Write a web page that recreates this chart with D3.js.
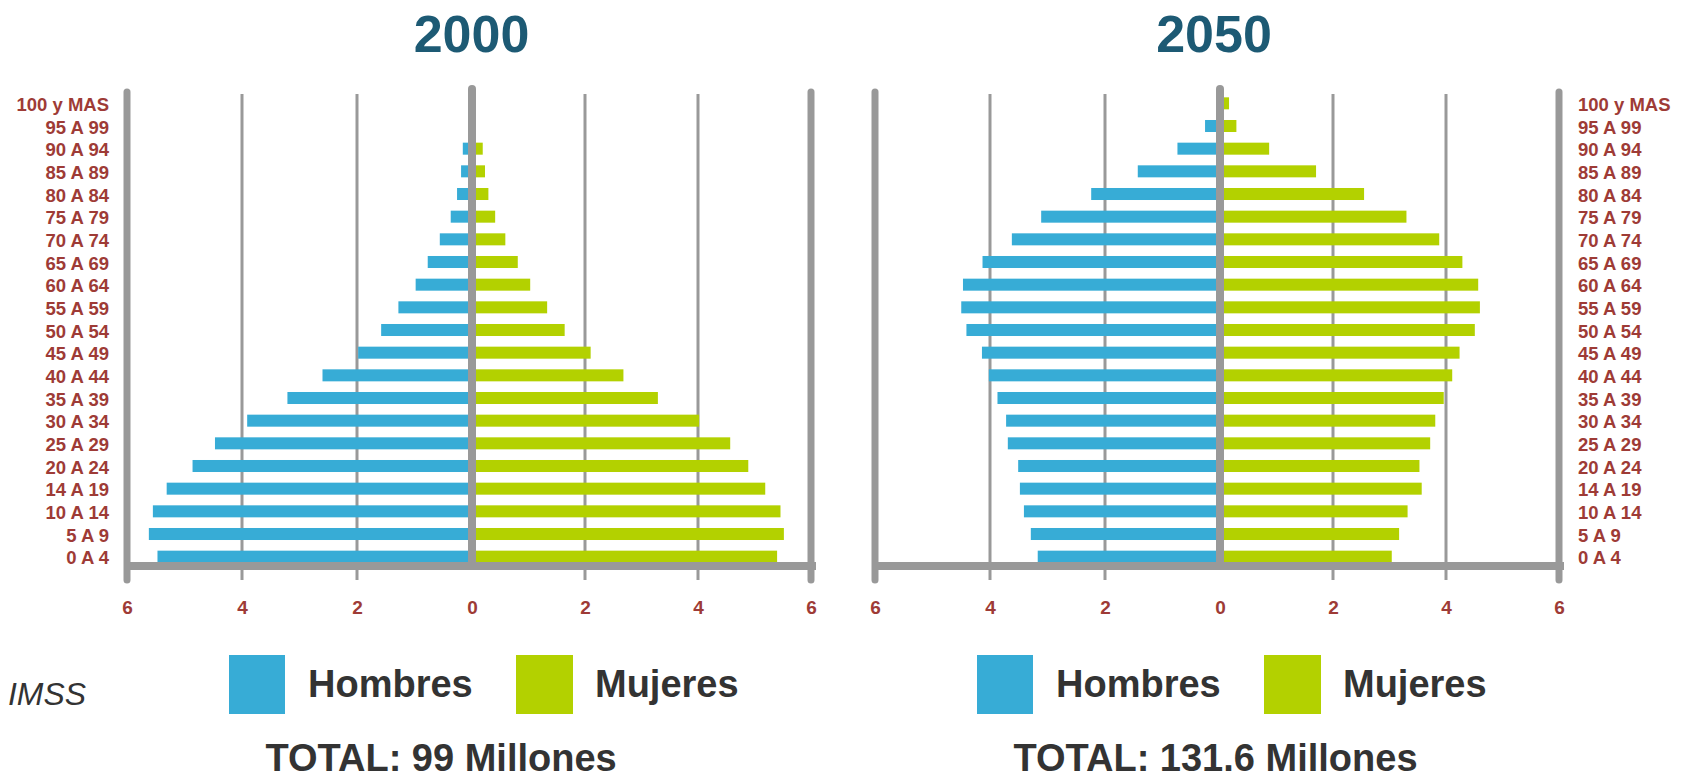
<!DOCTYPE html>
<html>
<head>
<meta charset="utf-8">
<script src="https://cdn.jsdelivr.net/npm/d3@7"></script>
<style>
  html, body { margin: 0; padding: 0; background: #ffffff; }
  svg { display: block; }
  text { font-family: "Liberation Sans", Arial, Helvetica, sans-serif; }
</style>
</head>
<body>
<svg id="chart" width="1688" height="780"></svg>
<script>
// ---------- DATA (millions of people, top row first) ----------
const ageGroups = ["100 y MAS","95 A 99","90 A 94","85 A 89","80 A 84","75 A 79","70 A 74",
  "65 A 69","60 A 64","55 A 59","50 A 54","45 A 49","40 A 44","35 A 39","30 A 34",
  "25 A 29","20 A 24","14 A 19","10 A 14","5 A 9","0 A 4"];

const hombres2000 = [0, 0, 0.16, 0.19, 0.26, 0.37, 0.56, 0.77, 0.98, 1.28, 1.58,
  1.98, 2.60, 3.21, 3.91, 4.47, 4.86, 5.31, 5.55, 5.62, 5.47];
const mujeres2000 = [0, 0, 0.19, 0.23, 0.29, 0.41, 0.59, 0.81, 1.03, 1.33, 1.64,
  2.10, 2.68, 3.29, 4.02, 4.57, 4.89, 5.19, 5.46, 5.52, 5.40];

const hombres2050 = [0, 0.26, 0.74, 1.43, 2.24, 3.11, 3.62, 4.13, 4.47, 4.50, 4.41,
  4.14, 4.02, 3.87, 3.72, 3.69, 3.51, 3.48, 3.41, 3.29, 3.17];
const mujeres2050 = [0.16, 0.29, 0.87, 1.70, 2.55, 3.30, 3.88, 4.29, 4.57, 4.60, 4.51,
  4.24, 4.11, 3.96, 3.81, 3.72, 3.53, 3.57, 3.32, 3.17, 3.04];

const xTickValues = [-6, -4, -2, 0, 2, 4, 6];
const gridValues = [-4, -2, 2, 4];
const years = ["2000", "2050"];
const totals = ["TOTAL: 99 Millones", "TOTAL: 131.6 Millones"];
const seriesNames = ["Hombres", "Mujeres"];
const source = "IMSS";

// ---------- STYLE ----------
const BLUE = "#37acd6", GREEN = "#b3d100", GRAY = "#999999";
const LABEL = "#9e3b36", TITLE = "#1d5a74", DARK = "#333333";

const svg = d3.select("#chart");

const y = d3.scaleBand().domain(ageGroups).range([92, 568])
  .paddingInner(0.47).paddingOuter(0.235);

function panel(offset, hombres, mujeres, labelSide, year, total) {
  const x = d3.scaleLinear().domain([-6, 0, 6]).range([127 + offset, 472 + offset, 811 + offset]);
  const g = svg.append("g");

  // grid lines
  g.selectAll("line.grid").data(gridValues).join("line")
    .attr("x1", d => x(d)).attr("x2", d => x(d))
    .attr("y1", 94).attr("y2", 580)
    .attr("stroke", GRAY).attr("stroke-width", 3);

  // bars
  g.selectAll("rect.h").data(ageGroups).join("rect")
    .attr("x", (d, i) => x(-hombres[i]))
    .attr("width", (d, i) => x(0) - x(-hombres[i]))
    .attr("y", d => y(d)).attr("height", y.bandwidth())
    .attr("fill", BLUE);
  g.selectAll("rect.m").data(ageGroups).join("rect")
    .attr("x", x(0))
    .attr("width", (d, i) => x(mujeres[i]) - x(0))
    .attr("y", d => y(d)).attr("height", y.bandwidth())
    .attr("fill", GREEN);

  // frame verticals
  g.selectAll("line.frame").data([-6, 6]).join("line")
    .attr("x1", d => x(d)).attr("x2", d => x(d))
    .attr("y1", 92).attr("y2", 580)
    .attr("stroke", GRAY).attr("stroke-width", 7).attr("stroke-linecap", "round");

  // zero axis
  g.append("line")
    .attr("x1", x(0)).attr("x2", x(0)).attr("y1", 89).attr("y2", 566)
    .attr("stroke", GRAY).attr("stroke-width", 8).attr("stroke-linecap", "round");

  // bottom axis line
  g.append("line")
    .attr("x1", x(-6)).attr("x2", x(6) + 5).attr("y1", 566).attr("y2", 566)
    .attr("stroke", GRAY).attr("stroke-width", 8);

  // tick labels
  const ax = g.append("g").attr("transform", "translate(0,600)")
    .call(d3.axisBottom(x).tickValues(xTickValues).tickFormat(d => Math.abs(d))
      .tickSize(0).tickPadding(0));
  ax.select(".domain").remove();
  ax.selectAll("text")
    .attr("font-family", "'Liberation Sans', Arial, sans-serif")
    .attr("font-size", 19).attr("font-weight", "bold").attr("fill", LABEL);

  // row labels
  const lx = labelSide === "left" ? 109 : 1578;
  g.selectAll("text.row").data(ageGroups).join("text")
    .attr("x", lx)
    .attr("y", d => y(d) + y.bandwidth() / 2 + 1)
    .attr("dy", "0.36em")
    .attr("text-anchor", labelSide === "left" ? "end" : "start")
    .attr("font-size", 18.5).attr("font-weight", "bold").attr("fill", LABEL)
    .text(d => d);

  // title
  g.append("text")
    .attr("x", labelSide === "left" ? 471.5 : 1214).attr("y", 52)
    .attr("text-anchor", "middle")
    .attr("font-size", 52).attr("font-weight", "bold").attr("fill", TITLE)
    .text(year);

  // legend
  const lg = g.append("g").attr("transform", `translate(${offset},0)`);
  lg.append("rect").attr("x", 229).attr("y", 655).attr("width", 56).attr("height", 59).attr("fill", BLUE);
  lg.append("text").attr("x", 308).attr("y", 697)
    .attr("font-size", 38).attr("font-weight", "bold").attr("fill", DARK).text(seriesNames[0]);
  lg.append("rect").attr("x", 516).attr("y", 655).attr("width", 57).attr("height", 59).attr("fill", GREEN);
  lg.append("text").attr("x", 595).attr("y", 697)
    .attr("font-size", 38).attr("font-weight", "bold").attr("fill", DARK).text(seriesNames[1]);

  // total
  lg.append("text").attr("x", 265.5).attr("y", 771)
    .attr("font-size", 38).attr("font-weight", "bold").attr("fill", DARK).text(total);
}

panel(0, hombres2000, mujeres2000, "left", years[0], totals[0]);
panel(748, hombres2050, mujeres2050, "right", years[1], totals[1]);

// source note
svg.append("text").attr("x", 8).attr("y", 705)
  .attr("font-size", 31).attr("font-style", "italic").attr("fill", DARK)
  .attr("textLength", 78).attr("lengthAdjust", "spacingAndGlyphs")
  .text(source);
</script>
</body>
</html>
